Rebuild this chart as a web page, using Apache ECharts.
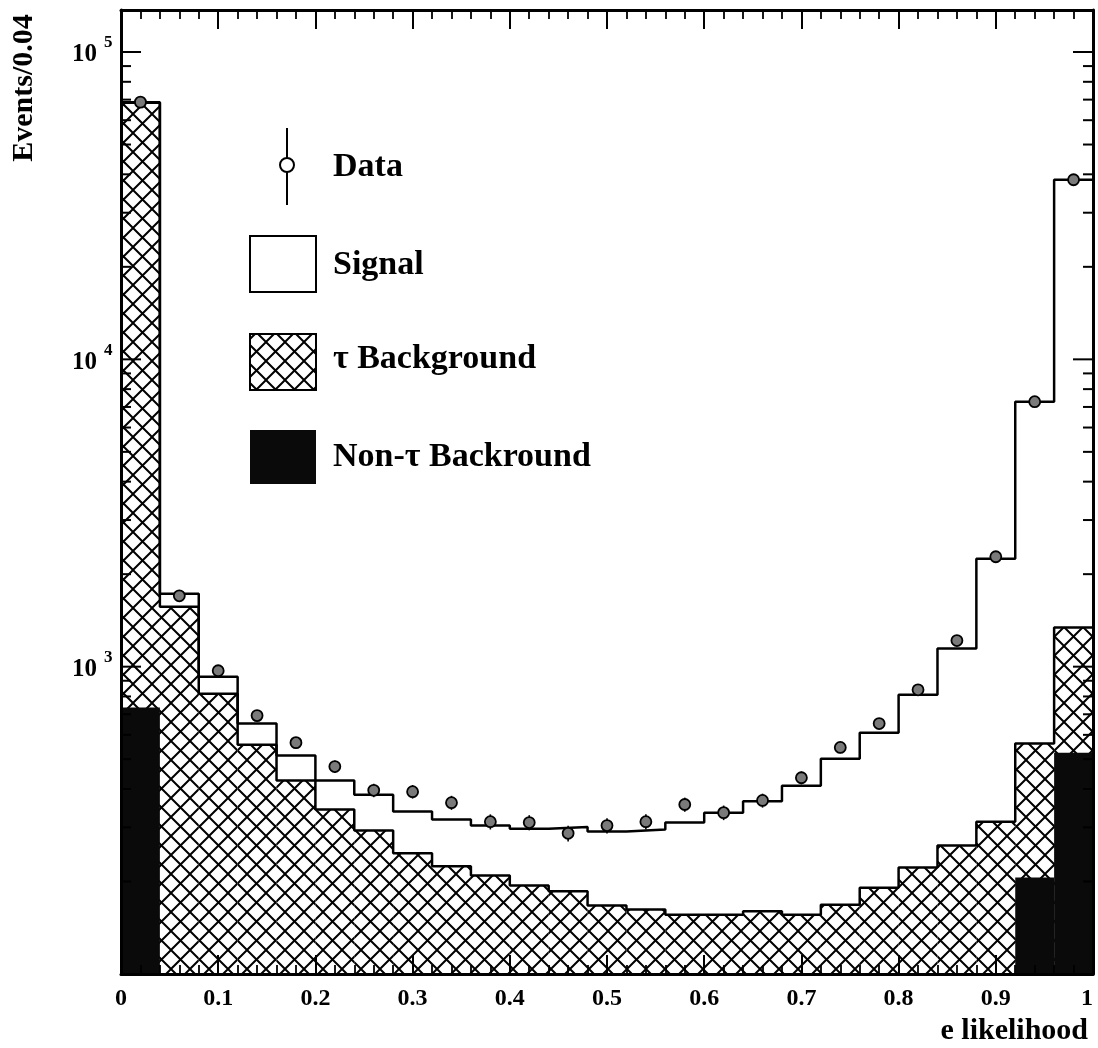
<!DOCTYPE html>
<html>
<head>
<meta charset="utf-8">
<script src="https://cdn.jsdelivr.net/npm/echarts@6/dist/echarts.min.js"></script>
<style>
  html, body { margin: 0; padding: 0; background: #fff; }
  #chart { width: 1098px; height: 1048px; }
</style>
</head>
<body>
<div id="chart"></div>
<script>
// Histogram binning in e likelihood (25 bins of width 0.04)
const binEdges = [0, 0.04, 0.08, 0.12, 0.16, 0.20, 0.24, 0.28, 0.32, 0.36, 0.40, 0.44, 0.48,
                  0.52, 0.56, 0.60, 0.64, 0.68, 0.72, 0.76, 0.80, 0.84, 0.88, 0.92, 0.96, 1.00];

// Observed events per bin
const dataCounts = [68700, 1700, 970, 693, 566, 473, 396, 392, 361, 313, 311, 287, 304,
                    313, 356, 335, 367, 435, 546, 653, 841, 1216, 2279, 7280, 38400];

// Stacked expectation: signal + τ background + non-τ background
const mcTotal = [68700, 1726, 927, 653, 514, 426, 383, 338, 318, 304, 297, 301, 291,
                 295, 311, 335, 365, 410, 502, 610, 811, 1145, 2246, 7280, 38400];

// Stacked background: τ background + non-τ background
const bkgTotal = [68400, 1567, 817, 557, 426, 343, 293, 247, 224, 209, 194, 186, 167,
                  162, 156, 156, 160, 156, 168, 191, 222, 262, 313, 562, 1340];

// Non-τ background alone (0 where it stays below the plotted range)
const nonTauBkg = [736, 0, 0, 0, 0, 0, 0, 0, 0, 0, 0, 0, 0,
                   0, 0, 0, 0, 0, 0, 0, 0, 0, 0, 206, 525];

// Logarithmic y axis: range, decade ticks with their exponents, and 2..9 minor ticks
const yRange = [100, 137000];
const yMajorTicks = [100, 1000, 10000, 100000];
const yMajorExponents = ['', '3', '4', '5'];
const yMinorTicks = [200, 300, 400, 500, 600, 700, 800, 900,
                     2000, 3000, 4000, 5000, 6000, 7000, 8000, 9000,
                     20000, 30000, 40000, 50000, 60000, 70000, 80000, 90000];

const legendLabels = ['Data', 'Signal', 'τ Background', 'Non-τ Backround'];
const xTitle = 'e likelihood';
const yTitle = 'Events/0.04';

const SERIF = '"Liberation Serif", "Times New Roman", "DejaVu Serif", serif';

// Cross-hatch tile used for the τ background fill
function makeHatch(size, width) {
  const c = document.createElement('canvas');
  c.width = size; c.height = size;
  const g = c.getContext('2d');
  g.fillStyle = '#fff';
  g.fillRect(0, 0, size, size);
  g.strokeStyle = '#000';
  g.lineWidth = width;
  g.beginPath();
  for (const k of [-size, 0, size]) {
    g.moveTo(k, 0); g.lineTo(k + size, size);
    g.moveTo(k, size); g.lineTo(k + size, 0);
  }
  g.stroke();
  return c;
}
const hatchTile = makeHatch(19, 2);
const hatchFill = { type: 'pattern', image: hatchTile, repeat: 'repeat' };

// Series data built from the arrays above
const binRects = (vals) => vals
  .map((v, i) => [binEdges[i], binEdges[i + 1], v])
  .filter(d => d[2] > 0);
const stepLine = (vals) => {
  const pts = vals.map((v, i) => [binEdges[i], v]);
  pts.push([binEdges[binEdges.length - 1], vals[vals.length - 1]]);
  return pts;
};
const dataPoints = dataCounts.map((v, i) => [(binEdges[i] + binEdges[i + 1]) / 2, v]);

function renderBins(fill) {
  return function (params, api) {
    const p0 = api.coord([api.value(0), api.value(2)]);
    const p1 = api.coord([api.value(1), yRange[0]]);
    return {
      type: 'rect',
      shape: { x: p0[0], y: p0[1], width: p1[0] - p0[0], height: p1[1] - p0[1] },
      style: { fill: fill }
    };
  };
}

function renderPoint(params, api) {
  const x = api.value(0), n = api.value(1);
  const err = Math.sqrt(n);
  const c = api.coord([x, n]);
  const hi = api.coord([x, n + err]);
  const lo = api.coord([x, n - err]);
  return {
    type: 'group',
    children: [
      { type: 'line', shape: { x1: c[0], y1: hi[1], x2: c[0], y2: lo[1] },
        style: { stroke: '#000', lineWidth: 1.6 } },
      { type: 'circle', shape: { cx: c[0], cy: c[1], r: 5.5 },
        style: { fill: '#7a7a7a', stroke: '#000', lineWidth: 1.8 } }
    ]
  };
}

function renderYTick(len, withLabel) {
  return function (params, api) {
    const v = api.value(1);
    const l = api.coord([0, v]);
    const r = api.coord([1, v]);
    const children = [
      { type: 'line', shape: { x1: l[0], y1: l[1], x2: l[0] + len, y2: l[1] },
        style: { stroke: '#000', lineWidth: 2 } },
      { type: 'line', shape: { x1: r[0] - len, y1: r[1], x2: r[0], y2: r[1] },
        style: { stroke: '#000', lineWidth: 2 } }
    ];
    if (withLabel) {
      const exp = yMajorExponents[params.dataIndex];
      if (exp) {
        children.push({
          type: 'text', x: l[0] - 24, y: l[1] + 3,
          style: { text: '10', font: 'bold 25px ' + SERIF, fill: '#000',
                   align: 'right', verticalAlign: 'middle' }
        });
        children.push({
          type: 'text', x: l[0] - 17, y: l[1] - 9,
          style: { text: exp, font: 'bold 17px ' + SERIF, fill: '#000',
                   align: 'left', verticalAlign: 'middle' }
        });
      }
    }
    return { type: 'group', children: children };
  };
}

const chart = echarts.init(document.getElementById('chart'), null, { renderer: 'canvas' });

const xAxisBase = {
  type: 'value', min: 0, max: 1, interval: 0.1, z: 10,
  axisLine: { show: true, onZero: false, lineStyle: { color: '#000', width: 3 } },
  axisTick: { show: true, inside: true, length: 19, lineStyle: { color: '#000', width: 2 } },
  minorTick: { show: true, splitNumber: 5, length: 9, lineStyle: { color: '#000', width: 1.8 } },
  splitLine: { show: false },
  minorSplitLine: { show: false }
};
const yAxisBase = {
  type: 'log', logBase: 10, min: yRange[0], max: yRange[1], z: 10,
  axisLine: { show: true, onZero: false, lineStyle: { color: '#000', width: 3 } },
  axisTick: { show: false },
  axisLabel: { show: false },
  splitLine: { show: false }
};

const legendX = 250, legendTextX = 333;

chart.setOption({
  animation: false,
  backgroundColor: '#fff',
  grid: { left: 121, right: 5, top: 10, bottom: 74, containLabel: false, outerBoundsMode: 'none' },
  xAxis: [
    Object.assign({}, xAxisBase, {
      position: 'bottom',
      axisLabel: { show: true, margin: 13, color: '#000', fontFamily: SERIF,
                   fontWeight: 'bold', fontSize: 24, alignMaxLabel: 'right',
                   hideOverlap: false }
    }),
    Object.assign({}, xAxisBase, { position: 'top', axisLabel: { show: false } })
  ],
  yAxis: [
    Object.assign({}, yAxisBase, { position: 'left' }),
    Object.assign({}, yAxisBase, { position: 'right' })
  ],
  graphic: [
    { type: 'text', x: 24, y: 88, rotation: Math.PI / 2,
      style: { text: yTitle, font: 'bold 30px ' + SERIF, fill: '#000',
               align: 'center', verticalAlign: 'middle',
               textAlign: 'center', textVerticalAlign: 'middle' } },
    { type: 'text', x: 1088, y: 1031,
      style: { text: xTitle, font: 'bold 30px ' + SERIF, fill: '#000',
               align: 'right', verticalAlign: 'middle',
               textAlign: 'right', textVerticalAlign: 'middle' } },
    // Legend: data marker with error bar
    { type: 'line', shape: { x1: 287, y1: 128, x2: 287, y2: 205 },
      style: { stroke: '#000', lineWidth: 2 } },
    { type: 'circle', shape: { cx: 287, cy: 165, r: 7 },
      style: { fill: '#fff', stroke: '#000', lineWidth: 2 } },
    // Legend: signal, τ background, non-τ background boxes
    { type: 'rect', shape: { x: legendX, y: 236, width: 66, height: 56 },
      style: { fill: '#fff', stroke: '#000', lineWidth: 2 } },
    { type: 'rect', shape: { x: legendX, y: 334, width: 66, height: 56 },
      style: { fill: hatchFill, stroke: '#000', lineWidth: 2 } },
    { type: 'rect', shape: { x: legendX, y: 430, width: 66, height: 54 },
      style: { fill: '#0a0a0a' } },
    ...[167, 265, 359, 457].map((y, i) => ({
      type: 'text', x: legendTextX, y: y,
      style: { text: legendLabels[i], font: 'bold 34px ' + SERIF, fill: '#000',
               align: 'left', verticalAlign: 'middle',
               textAlign: 'left', textVerticalAlign: 'middle' }
    }))
  ],
  series: [
    { name: 'τ Background', type: 'custom', z: 1, clip: true,
      renderItem: renderBins(hatchFill), encode: { x: [0, 1], y: 2 },
      data: binRects(bkgTotal) },
    { name: 'Non-τ Backround', type: 'custom', z: 2, clip: true,
      renderItem: renderBins('#0a0a0a'), encode: { x: [0, 1], y: 2 },
      data: binRects(nonTauBkg) },
    { name: 'Background outline', type: 'line', z: 3, step: 'end', symbol: 'none',
      lineStyle: { color: '#000', width: 2.5 }, data: stepLine(bkgTotal) },
    { name: 'Signal', type: 'line', z: 3, step: 'end', symbol: 'none',
      lineStyle: { color: '#000', width: 2.5 }, data: stepLine(mcTotal) },
    { name: 'Data', type: 'custom', z: 4, clip: false,
      renderItem: renderPoint, encode: { x: 0, y: 1 }, data: dataPoints },
    { name: 'y major ticks', type: 'custom', z: 5, clip: false, silent: true,
      renderItem: renderYTick(20, true), encode: { x: 0, y: 1 },
      data: yMajorTicks.map(v => [0, v]) },
    { name: 'y minor ticks', type: 'custom', z: 5, clip: false, silent: true,
      renderItem: renderYTick(10, false), encode: { x: 0, y: 1 },
      data: yMinorTicks.map(v => [0, v]) }
  ]
});
</script>
</body>
</html>
